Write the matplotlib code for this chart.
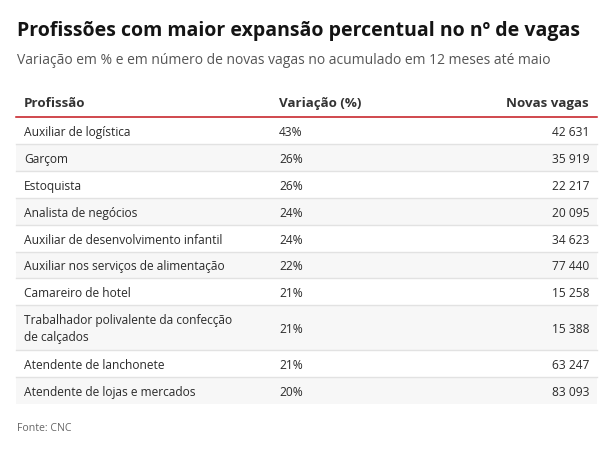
import matplotlib
matplotlib.use('Agg')
import matplotlib.pyplot as plt
from matplotlib.patches import Rectangle

plt.rcParams['font.family'] = ['Open Sans', 'DejaVu Sans']

# --- data ---
title = 'Profissões com maior expansão percentual no nº de vagas'
subtitle = 'Variação em % e em número de novas vagas no acumulado em 12 meses até maio'
headers = ['Profissão', 'Variação (%)', 'Novas vagas']
professions = [
    'Auxiliar de logística',
    'Garçom',
    'Estoquista',
    'Analista de negócios',
    'Auxiliar de desenvolvimento infantil',
    'Auxiliar nos serviços de alimentação',
    'Camareiro de hotel',
    'Trabalhador polivalente da confecção\nde calçados',
    'Atendente de lanchonete',
    'Atendente de lojas e mercados',
]
variation_pct = [43, 26, 26, 24, 24, 22, 21, 21, 21, 20]
new_jobs = [42631, 35919, 22217, 20095, 34623, 77440, 15258, 15388, 63247, 83093]
source = 'Fonte: CNC'

# --- layout (pixel units, y down) ---
W, H = 613, 456
left, right = 16, 597
col_x = [24, 279, 589]
table_top = 118
row_h = 26.9
row_h_two_lines = 45
text_color = '#2b2b2b'
body_size = 8.65

fig = plt.figure(figsize=(W / 100, H / 100), dpi=100)
ax = fig.add_axes([0, 0, 1, 1])
ax.set_xlim(0, W)
ax.set_ylim(H, 0)
ax.axis('off')

ax.text(17, 36, title, fontsize=14.0, fontweight='bold', color='#141414',
        va='baseline', ha='left')
ax.text(17, 64, subtitle, fontsize=10.0, color='#555555', va='baseline', ha='left')

# header
for x, label, ha in zip(col_x, headers, ['left', 'left', 'right']):
    ax.text(x, 107, label, fontsize=9.6, fontweight='bold', color='#333333',
            va='baseline', ha=ha)

y = table_top
for i, (name, pct, n) in enumerate(zip(professions, variation_pct, new_jobs)):
    h = row_h_two_lines if '\n' in name else row_h
    if i % 2 == 1:
        ax.add_patch(Rectangle((left, y), right - left, h, facecolor='#f7f7f7',
                               edgecolor='none', zorder=0))
    cy = y + h / 2
    if '\n' in name:
        ax.text(col_x[0], cy, name, fontsize=body_size, color=text_color, va='center',
                ha='left', linespacing=1.42)
    else:
        ax.text(col_x[0], cy + 4.5, name, fontsize=body_size, color=text_color,
                va='baseline', ha='left')
    ax.text(col_x[1], cy + 4.5, f'{pct}%', fontsize=body_size, color=text_color,
            va='baseline', ha='left')
    ax.text(col_x[2], cy + 4.5, f'{n:,}'.replace(',', ' '), fontsize=body_size,
            color=text_color, va='baseline', ha='right')
    y += h
    if i < len(professions) - 1:
        ax.plot([left, right], [y, y], color='#e2e2e2', linewidth=1, zorder=1)

ax.plot([left, right], [table_top, table_top], color='#c4161c', linewidth=1.1, zorder=2)

ax.text(17, 429, source, fontsize=7.6, color='#666666', va='center', ha='left')

fig.savefig('out.png', dpi=100)
